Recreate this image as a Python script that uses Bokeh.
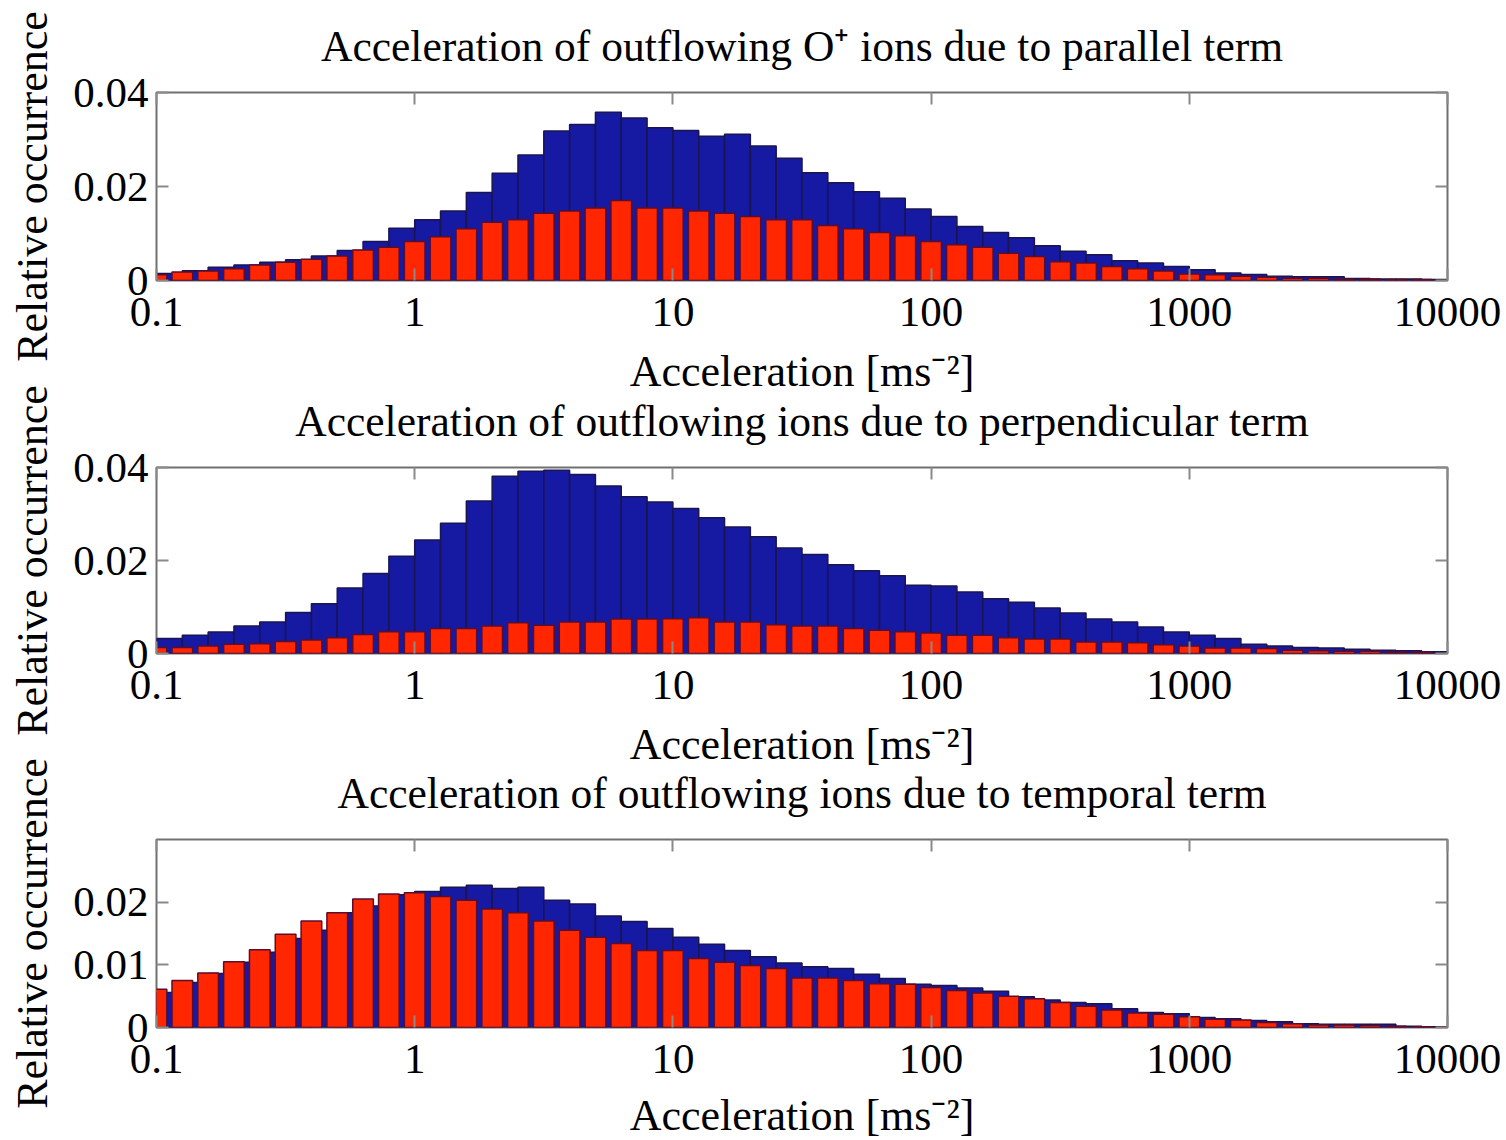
import numpy as np
from bokeh.plotting import figure
from bokeh.layouts import column
from bokeh.models import FixedTicker, LogAxis, LinearAxis, Range1d, ColumnDataSource
from bokeh.embed import file_html
from bokeh.resources import INLINE

# Histogram bins: 10 per decade from 0.1 to 10000 m/s^2
bin_edges = 10 ** np.linspace(-1, 4, 51)

x_ticks = [0.1, 1, 10, 100, 1000, 10000]
x_tick_labels = ["0.1", "1", "10", "100", "1000", "10000"]

titles = [
    "Acceleration of outflowing O\u207a ions due to parallel term",
    "Acceleration of outflowing ions due to perpendicular term",
    "Acceleration of outflowing ions due to temporal term",
]

# Parallel term
blue_parallel = [0.0015, 0.0021, 0.0028, 0.0033, 0.0039, 0.0044, 0.0052, 0.0064, 0.0083, 0.0111,
                 0.0129, 0.0148, 0.0187, 0.0228, 0.0267, 0.0318, 0.0332, 0.0358, 0.0346, 0.0325,
                 0.0319, 0.0307, 0.0311, 0.0286, 0.0260, 0.0229, 0.0208, 0.0189, 0.0175, 0.0152,
                 0.0136, 0.0115, 0.0102, 0.0091, 0.0074, 0.0062, 0.0055, 0.0042, 0.0037, 0.0030,
                 0.0023, 0.0016, 0.0013, 0.0009, 0.0008, 0.0008, 0.0004, 0.0003, 0.0003, 0.0002]
red_parallel = [0.0012, 0.0018, 0.0020, 0.0025, 0.0033, 0.0039, 0.0045, 0.0052, 0.0065, 0.0071,
                0.0083, 0.0093, 0.0110, 0.0124, 0.0129, 0.0143, 0.0148, 0.0154, 0.0170, 0.0154,
                0.0154, 0.0148, 0.0143, 0.0136, 0.0129, 0.0129, 0.0117, 0.0110, 0.0102, 0.0095,
                0.0083, 0.0076, 0.0071, 0.0058, 0.0051, 0.0040, 0.0037, 0.0030, 0.0025, 0.0020,
                0.0014, 0.0012, 0.0009, 0.0007, 0.0005, 0.0005, 0.0003, 0.0003, 0.0002, 0.0002,
                0.0001]

# Perpendicular term
blue_perpendicular = [0.0032, 0.0039, 0.0046, 0.0059, 0.0068, 0.0088, 0.0107, 0.0141, 0.0172, 0.0209,
                      0.0244, 0.0280, 0.0328, 0.0381, 0.0392, 0.0394, 0.0385, 0.0360, 0.0337, 0.0326,
                      0.0312, 0.0292, 0.0272, 0.0251, 0.0227, 0.0213, 0.0191, 0.0178, 0.0167, 0.0147,
                      0.0145, 0.0132, 0.0118, 0.0110, 0.0098, 0.0087, 0.0074, 0.0068, 0.0057, 0.0046,
                      0.0039, 0.0032, 0.0020, 0.0016, 0.0013, 0.0012, 0.0009, 0.0007, 0.0006, 0.0004]
red_perpendicular = [0.0013, 0.0013, 0.0016, 0.0020, 0.0021, 0.0026, 0.0029, 0.0034, 0.0041, 0.0047,
                     0.0047, 0.0054, 0.0054, 0.0059, 0.0066, 0.0061, 0.0068, 0.0068, 0.0074, 0.0074,
                     0.0075, 0.0077, 0.0068, 0.0068, 0.0062, 0.0059, 0.0059, 0.0054, 0.0050, 0.0047,
                     0.0044, 0.0039, 0.0039, 0.0034, 0.0031, 0.0031, 0.0025, 0.0025, 0.0023, 0.0019,
                     0.0016, 0.0012, 0.0012, 0.0011, 0.0007, 0.0006, 0.0005, 0.0005, 0.0003, 0.0003,
                     0.0001]

# Temporal term
blue_temporal = [0.0056, 0.0072, 0.0086, 0.0104, 0.0120, 0.0142, 0.0155, 0.0183, 0.0194, 0.0212,
                 0.0217, 0.0224, 0.0227, 0.0222, 0.0224, 0.0203, 0.0197, 0.0178, 0.0169, 0.0158,
                 0.0144, 0.0133, 0.0123, 0.0113, 0.0103, 0.0097, 0.0094, 0.0085, 0.0078, 0.0069,
                 0.0067, 0.0063, 0.0058, 0.0049, 0.0044, 0.0040, 0.0038, 0.0030, 0.0024, 0.0022,
                 0.0016, 0.0014, 0.0011, 0.0009, 0.0006, 0.0005, 0.0005, 0.0005, 0.0002, 0.0001]
red_temporal = [0.0061, 0.0075, 0.0087, 0.0105, 0.0124, 0.0149, 0.0170, 0.0183, 0.0205, 0.0213,
                0.0215, 0.0209, 0.0203, 0.0189, 0.0183, 0.0170, 0.0155, 0.0144, 0.0134, 0.0123,
                0.0123, 0.0110, 0.0104, 0.0099, 0.0094, 0.0079, 0.0079, 0.0075, 0.0070, 0.0069,
                0.0064, 0.0059, 0.0055, 0.0050, 0.0046, 0.0040, 0.0034, 0.0028, 0.0023, 0.0021,
                0.0017, 0.0013, 0.0012, 0.0008, 0.0006, 0.0004, 0.0004, 0.0003, 0.0002, 0.0001,
                0.0001]

y_max = [0.04, 0.04, 0.03]
y_ticks = [[0, 0.02, 0.04], [0, 0.02, 0.04], [0, 0.01, 0.02]]
y_tick_labels = [["0", "0.02", "0.04"], ["0", "0.02", "0.04"], ["0", "0.01", "0.02"]]

FONT = "Liberation Serif"
TICK_SIZE = "43px"
LABEL_SIZE = "44px"
TITLE_SIZE = "43.5px"
BLUE = "#1619A1"
RED = "#FF2600"
FRAME = "#707070"
TICK = "#8a8a8a"

# space reserved above / below each frame; neighbouring panels overlap
# through negative margins so the text can sit close together
TOP_BORDER = 100
BOTTOM_BORDER = 130


def style_ticks(axis, ticks, labels=None):
    axis.ticker = FixedTicker(ticks=ticks)
    axis.major_tick_in = 12
    axis.major_tick_out = 0
    axis.major_tick_line_color = TICK
    axis.major_tick_line_width = 2
    axis.minor_tick_line_color = None
    axis.axis_line_color = None
    if labels is None:
        # mirrored tick marks only
        axis.major_label_text_font_size = "1px"
        axis.major_label_text_alpha = 0
        axis.major_label_standoff = 0
    else:
        axis.major_label_overrides = {t: l for t, l in zip(ticks, labels)}
        axis.major_label_text_font = FONT
        axis.major_label_text_font_size = TICK_SIZE
        axis.major_label_text_color = "black"


def make_panel(i, blue, red, frame_h, margin, xlabel_standoff):
    p = figure(x_axis_type="log", x_range=Range1d(0.1, 10000), y_range=Range1d(0, y_max[i]),
               frame_width=1291, frame_height=frame_h,
               min_border_left=156, min_border_right=59,
               min_border_top=TOP_BORDER, min_border_bottom=BOTTOM_BORDER,
               margin=margin,
               output_backend="svg", toolbar_location=None, title=titles[i])
    p.title.text_font = FONT
    p.title.text_font_size = TITLE_SIZE
    p.title.text_font_style = "normal"
    p.title.align = "center"
    p.title.vertical_align = "bottom"
    p.title.text_color = "black"
    p.title.standoff = 45

    p.xgrid.visible = False
    p.ygrid.visible = False
    p.outline_line_color = FRAME
    p.outline_line_width = 2
    p.background_fill_color = "white"
    p.border_fill_color = None

    style_ticks(p.xaxis[0], x_ticks, x_tick_labels)
    style_ticks(p.yaxis[0], y_ticks[i], y_tick_labels[i])
    p.xaxis.major_label_standoff = 17
    p.yaxis.major_label_standoff = 8
    p.xaxis.axis_label = "Acceleration [ms\u207b\u00b2]"
    p.yaxis.axis_label = "Relative occurrence"
    for ax in (p.xaxis[0], p.yaxis[0]):
        ax.axis_label_text_font = FONT
        ax.axis_label_text_font_size = LABEL_SIZE
        ax.axis_label_text_font_style = "normal"
        ax.axis_label_text_color = "black"
    p.xaxis.axis_label_standoff = xlabel_standoff
    p.yaxis.axis_label_standoff = 13

    top_ax = LogAxis()
    style_ticks(top_ax, x_ticks)
    p.add_layout(top_ax, "above")
    right_ax = LinearAxis()
    style_ticks(right_ax, y_ticks[i])
    p.add_layout(right_ax, "right")

    blue_src = ColumnDataSource(dict(left=bin_edges[:-1], right=bin_edges[1:], top=blue))
    p.quad(left="left", right="right", bottom=0, top="top", source=blue_src,
           fill_color=BLUE, line_color="#1a1450", line_width=1.5)
    half = 10 ** 0.04
    red_src = ColumnDataSource(dict(left=bin_edges / half, right=bin_edges * half, top=red))
    p.quad(left="left", right="right", bottom=0, top="top", source=red_src,
           fill_color=RED, line_color="#5c0c2c", line_width=1.5)
    return p


p1 = make_panel(0, blue_parallel, red_parallel, 188, (-8, 0, 0, 0), 18)
p2 = make_panel(1, blue_perpendicular, red_perpendicular, 186, (-43, 0, 0, 0), 18)
p3 = make_panel(2, blue_temporal, red_temporal, 188, (-44, 0, -17, 0), 15)

layout = column(p1, p2, p3, spacing=0)
open("out.html", "w").write(file_html(layout, INLINE))
